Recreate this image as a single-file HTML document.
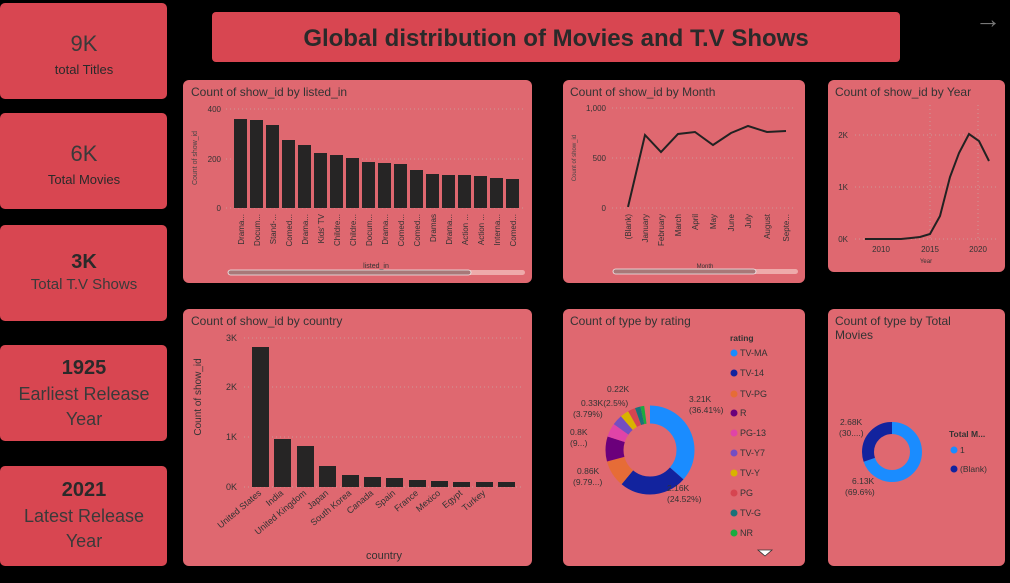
<!DOCTYPE html>
<html><head><style>
body{margin:0;background:#000;width:1010px;height:583px;overflow:hidden;font-family:"Liberation Sans",sans-serif}
svg{display:block}
</style></head><body>
<svg width="1010" height="583" xmlns="http://www.w3.org/2000/svg" font-family="Liberation Sans, sans-serif">
<rect width="1010" height="583" fill="#000"/>
<!-- KPI cards -->
<g fill="#d84651">
<rect x="0" y="3" width="167" height="96" rx="5"/>
<rect x="0" y="113" width="167" height="96" rx="5"/>
<rect x="0" y="225" width="167" height="96" rx="5"/>
<rect x="0" y="345" width="167" height="96" rx="5"/>
<rect x="0" y="466" width="167" height="100" rx="5"/>
</g>
<g text-anchor="middle" fill="#2a2a2a">
<text x="84" y="51" font-size="22" fill="#3a3a3a">9K</text>
<text x="84" y="74" font-size="13">total Titles</text>
<text x="84" y="161" font-size="22" fill="#3a3a3a">6K</text>
<text x="84" y="184" font-size="13">Total Movies</text>
<text x="84" y="268" font-size="20" font-weight="bold">3K</text>
<text x="84" y="289" font-size="15" fill="#3a3a3a">Total T.V Shows</text>
<text x="84" y="374" font-size="20" font-weight="bold">1925</text>
<text x="84" y="400" font-size="18" fill="#3a3a3a">Earliest Release</text>
<text x="84" y="425" font-size="18" fill="#3a3a3a">Year</text>
<text x="84" y="496" font-size="20" font-weight="bold">2021</text>
<text x="84" y="522" font-size="18" fill="#3a3a3a">Latest Release</text>
<text x="84" y="547" font-size="18" fill="#3a3a3a">Year</text>
</g>
<!-- title -->
<rect x="212" y="12" width="688" height="50" rx="4" fill="#d84651"/>
<text x="556" y="46" font-size="24" font-weight="bold" text-anchor="middle" fill="#2a2a2a">Global distribution of Movies and T.V Shows</text>
<text x="988" y="28" font-size="26" fill="#777" text-anchor="middle">→</text>
<!-- panels -->
<g fill="#df6870">
<rect x="183" y="80" width="349" height="203" rx="6"/>
<rect x="563" y="80" width="242" height="203" rx="6"/>
<rect x="828" y="80" width="177" height="192" rx="6"/>
<rect x="183" y="309" width="349" height="257" rx="6"/>
<rect x="563" y="309" width="242" height="257" rx="6"/>
<rect x="828" y="309" width="177" height="257" rx="6"/>
</g>
<g fill="#333" font-size="12">
<text x="191" y="96">Count of show_id by listed_in</text>
<text x="570" y="96">Count of show_id by Month</text>
<text x="835" y="96">Count of show_id by Year</text>
<text x="191" y="325">Count of show_id by country</text>
<text x="570" y="325">Count of type by rating</text>
<text x="835" y="325">Count of type by Total</text>
<text x="835" y="339">Movies</text>
</g>
<!-- listed_in chart -->
<g stroke="#c99" stroke-dasharray="1,3" stroke-width="1">
<line x1="226" y1="109" x2="523" y2="109"/><line x1="226" y1="159" x2="523" y2="159"/><line x1="226" y1="208" x2="523" y2="208"/>
</g>
<g font-size="8" fill="#333" text-anchor="end">
<text x="221" y="112">400</text><text x="221" y="162">200</text><text x="221" y="211">0</text>
</g>
<text transform="translate(197,158) rotate(-90)" font-size="7" fill="#444" text-anchor="middle">Count of show_id</text>
<g fill="#262525" id="lb"></g>
<g fill="#262525">
<rect x="234" y="119" width="13" height="89"/><rect x="250" y="120" width="13" height="88"/><rect x="266" y="125" width="13" height="83"/><rect x="282" y="140" width="13" height="68"/><rect x="298" y="145" width="13" height="63"/><rect x="314" y="153" width="13" height="55"/><rect x="330" y="155" width="13" height="53"/><rect x="346" y="158" width="13" height="50"/><rect x="362" y="162" width="13" height="46"/><rect x="378" y="163" width="13" height="45"/><rect x="394" y="164" width="13" height="44"/><rect x="410" y="170" width="13" height="38"/><rect x="426" y="174" width="13" height="34"/><rect x="442" y="175" width="13" height="33"/><rect x="458" y="175" width="13" height="33"/><rect x="474" y="176" width="13" height="32"/><rect x="490" y="178" width="13" height="30"/><rect x="506" y="179" width="13" height="29"/>
</g>
<g font-size="8" fill="#333" text-anchor="end">
<text transform="translate(244,214) rotate(-90)">Drama...</text><text transform="translate(260,214) rotate(-90)">Docum...</text><text transform="translate(276,214) rotate(-90)">Stand-...</text><text transform="translate(292,214) rotate(-90)">Comed...</text><text transform="translate(308,214) rotate(-90)">Drama...</text><text transform="translate(324,214) rotate(-90)">Kids' TV</text><text transform="translate(340,214) rotate(-90)">Childre...</text><text transform="translate(356,214) rotate(-90)">Childre...</text><text transform="translate(372,214) rotate(-90)">Docum...</text><text transform="translate(388,214) rotate(-90)">Drama...</text><text transform="translate(404,214) rotate(-90)">Comed...</text><text transform="translate(420,214) rotate(-90)">Comed...</text><text transform="translate(436,214) rotate(-90)">Dramas</text><text transform="translate(452,214) rotate(-90)">Drama...</text><text transform="translate(468,214) rotate(-90)">Action ...</text><text transform="translate(484,214) rotate(-90)">Action ...</text><text transform="translate(500,214) rotate(-90)">Interna...</text><text transform="translate(516,214) rotate(-90)">Comed...</text>
</g>
<text x="376" y="268" font-size="7" fill="#333" text-anchor="middle">listed_in</text>
<rect x="228" y="270" width="297" height="5" rx="2.5" fill="#eaa"/>
<rect x="228" y="270" width="243" height="5" rx="2.5" fill="#a87878" stroke="#eee" stroke-width="0.8"/>
<!-- Month chart -->
<g stroke="#c99" stroke-dasharray="1,3"><line x1="612" y1="108" x2="795" y2="108"/><line x1="612" y1="158" x2="795" y2="158"/><line x1="612" y1="208" x2="795" y2="208"/></g>
<g font-size="8" fill="#333" text-anchor="end"><text x="606" y="111">1,000</text><text x="606" y="161">500</text><text x="606" y="211">0</text></g>
<text transform="translate(576,158) rotate(-90)" font-size="6" fill="#444" text-anchor="middle">Count of show_id</text>
<polyline fill="none" stroke="#222" stroke-width="2" points="628,207 645,135 661,152 678,134 695,132 713,145 731,133 748,126 767,132 786,131"/>
<g font-size="8" fill="#333" text-anchor="end">
<text transform="translate(631,214) rotate(-90)">(Blank)</text><text transform="translate(648,214) rotate(-90)">January</text><text transform="translate(664,214) rotate(-90)">February</text><text transform="translate(681,214) rotate(-90)">March</text><text transform="translate(698,214) rotate(-90)">April</text><text transform="translate(716,214) rotate(-90)">May</text><text transform="translate(734,214) rotate(-90)">June</text><text transform="translate(751,214) rotate(-90)">July</text><text transform="translate(770,214) rotate(-90)">August</text><text transform="translate(789,214) rotate(-90)">Septe...</text>
</g>
<text x="705" y="268" font-size="6" fill="#333" text-anchor="middle">Month</text>
<rect x="613" y="269" width="185" height="5" rx="2.5" fill="#eaa"/>
<rect x="613" y="269" width="143" height="5" rx="2.5" fill="#a87878" stroke="#eee" stroke-width="0.8"/>
<!-- Year chart -->
<g stroke="#c99" stroke-dasharray="1,3"><line x1="855" y1="135" x2="998" y2="135"/><line x1="855" y1="187" x2="998" y2="187"/><line x1="855" y1="239" x2="998" y2="239"/><line x1="930" y1="105" x2="930" y2="239"/><line x1="978" y1="105" x2="978" y2="239"/></g>
<g font-size="8" fill="#333" text-anchor="end"><text x="848" y="138">2K</text><text x="848" y="190">1K</text><text x="848" y="242">0K</text></g>
<polyline fill="none" stroke="#222" stroke-width="2" points="865,239 881,239 901,239 911,238 920,237 930,234 940,216 950,177 959,153 969,134 979,141 989,161"/>
<g font-size="8" fill="#333" text-anchor="middle"><text x="881" y="252">2010</text><text x="930" y="252">2015</text><text x="978" y="252">2020</text><text x="926" y="263" font-size="6">Year</text></g>
<!-- Country chart -->
<g stroke="#c99" stroke-dasharray="1,3"><line x1="244" y1="338" x2="522" y2="338"/><line x1="244" y1="387" x2="522" y2="387"/><line x1="244" y1="437" x2="522" y2="437"/><line x1="244" y1="487" x2="522" y2="487"/></g>
<g font-size="9" fill="#333" text-anchor="end"><text x="237" y="341">3K</text><text x="237" y="390">2K</text><text x="237" y="440">1K</text><text x="237" y="490">0K</text></g>
<text transform="translate(201,397) rotate(-90)" font-size="10" fill="#333" text-anchor="middle">Count of show_id</text>
<g fill="#262525">
<rect x="252" y="347" width="17" height="140"/><rect x="274" y="439" width="17" height="48"/><rect x="297" y="446" width="17" height="41"/><rect x="319" y="466" width="17" height="21"/><rect x="342" y="475" width="17" height="12"/><rect x="364" y="477" width="17" height="10"/><rect x="386" y="478" width="17" height="9"/><rect x="409" y="480" width="17" height="7"/><rect x="431" y="481" width="17" height="6"/><rect x="453" y="482" width="17" height="5"/><rect x="476" y="482" width="17" height="5"/><rect x="498" y="482" width="17" height="5"/>
</g>
<g font-size="9" fill="#333" text-anchor="end">
<text transform="translate(262,494) rotate(-40)">United States</text><text transform="translate(284,494) rotate(-40)">India</text><text transform="translate(307,494) rotate(-40)">United Kingdom</text><text transform="translate(329,494) rotate(-40)">Japan</text><text transform="translate(352,494) rotate(-40)">South Korea</text><text transform="translate(374,494) rotate(-40)">Canada</text><text transform="translate(396,494) rotate(-40)">Spain</text><text transform="translate(419,494) rotate(-40)">France</text><text transform="translate(441,494) rotate(-40)">Mexico</text><text transform="translate(463,494) rotate(-40)">Egypt</text><text transform="translate(486,494) rotate(-40)">Turkey</text>
</g>
<text x="384" y="559" font-size="11" fill="#333" text-anchor="middle">country</text>
<!-- rating donut -->
<g fill="none" stroke-width="18" transform="translate(650,450) rotate(-90)">
<circle r="35.5" stroke="#1a8cff" stroke-dasharray="81.2 1000" stroke-dashoffset="0"/>
<circle r="35.5" stroke="#12239e" stroke-dasharray="54.7 1000" stroke-dashoffset="-81.2"/>
<circle r="35.5" stroke="#e66c37" stroke-dasharray="21.8 1000" stroke-dashoffset="-135.9"/>
<circle r="35.5" stroke="#6b007b" stroke-dasharray="20.3 1000" stroke-dashoffset="-157.7"/>
<circle r="35.5" stroke="#e044a7" stroke-dasharray="11 1000" stroke-dashoffset="-178"/>
<circle r="35.5" stroke="#744ec2" stroke-dasharray="8.5 1000" stroke-dashoffset="-189"/>
<circle r="35.5" stroke="#d9b300" stroke-dasharray="7 1000" stroke-dashoffset="-197.5"/>
<circle r="35.5" stroke="#d64550" stroke-dasharray="6 1000" stroke-dashoffset="-204.5"/>
<circle r="35.5" stroke="#197278" stroke-dasharray="4.5 1000" stroke-dashoffset="-210.5"/>
<circle r="35.5" stroke="#1aab40" stroke-dasharray="3 1000" stroke-dashoffset="-215"/>
</g>
<g font-size="8.5" fill="#333">
<text x="689" y="402">3.21K</text><text x="689" y="413">(36.41%)</text>
<text x="667" y="491">2.16K</text><text x="667" y="502">(24.52%)</text>
<text x="577" y="474">0.86K</text><text x="573" y="485">(9.79...)</text>
<text x="570" y="435">0.8K</text><text x="570" y="446">(9...)</text>
<text x="581" y="406">0.33K(2.5%)</text><text x="573" y="417">(3.79%)</text>
<text x="607" y="392">0.22K</text>
<text x="730" y="341" font-weight="bold">rating</text>
</g>
<g font-size="9" fill="#333">
<circle cx="734" cy="353" r="3.5" fill="#1a8cff"/><text x="740" y="356">TV-MA</text>
<circle cx="734" cy="373" r="3.5" fill="#12239e"/><text x="740" y="376">TV-14</text>
<circle cx="734" cy="394" r="3.5" fill="#e66c37"/><text x="740" y="397">TV-PG</text>
<circle cx="734" cy="413" r="3.5" fill="#6b007b"/><text x="740" y="416">R</text>
<circle cx="734" cy="433" r="3.5" fill="#e044a7"/><text x="740" y="436">PG-13</text>
<circle cx="734" cy="453" r="3.5" fill="#744ec2"/><text x="740" y="456">TV-Y7</text>
<circle cx="734" cy="473" r="3.5" fill="#d9b300"/><text x="740" y="476">TV-Y</text>
<circle cx="734" cy="493" r="3.5" fill="#d64550"/><text x="740" y="496">PG</text>
<circle cx="734" cy="513" r="3.5" fill="#197278"/><text x="740" y="516">TV-G</text>
<circle cx="734" cy="533" r="3.5" fill="#1aab40"/><text x="740" y="536">NR</text>
</g>
<polygon points="758,550 772,550 765,556" fill="#fff" stroke="#333" stroke-width="0.8"/>
<!-- total movies donut -->
<g fill="none" stroke-width="12" transform="translate(892,452) rotate(-90)">
<circle r="24" stroke="#1a8cff" stroke-dasharray="105 1000"/>
<circle r="24" stroke="#12239e" stroke-dasharray="46 1000" stroke-dashoffset="-105"/>
</g>
<g font-size="8.5" fill="#333">
<text x="840" y="425">2.68K</text><text x="839" y="436">(30....)</text>
<text x="852" y="484">6.13K</text><text x="845" y="495">(69.6%)</text>
<text x="949" y="437" font-weight="bold">Total M...</text>
<circle cx="954" cy="450" r="3.5" fill="#1a8cff"/><text x="960" y="453">1</text>
<circle cx="954" cy="469" r="3.5" fill="#12239e"/><text x="960" y="472">(Blank)</text>
</g>
</svg>
</body></html>
